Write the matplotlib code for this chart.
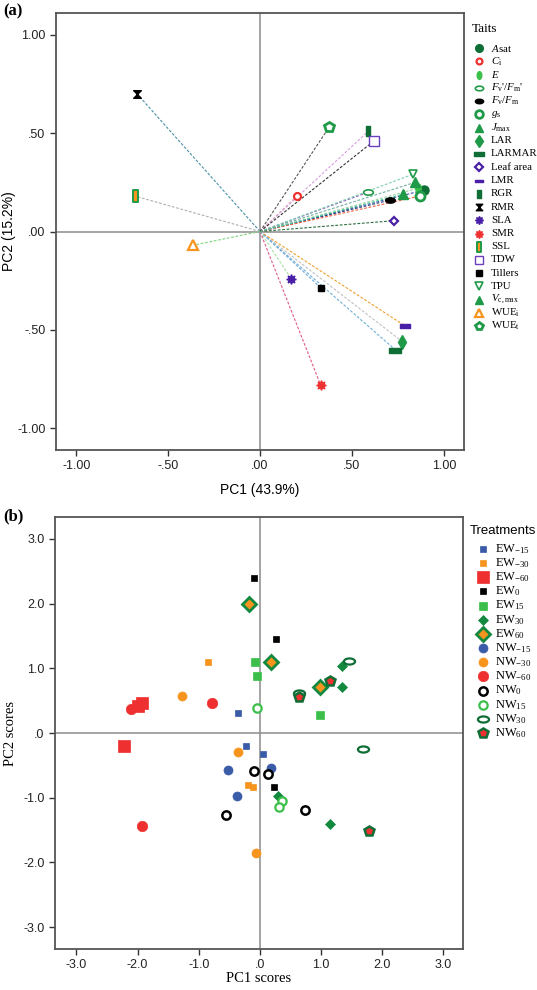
import matplotlib
matplotlib.use("Agg")
import matplotlib.pyplot as plt
import numpy as np
from matplotlib.lines import Line2D
from matplotlib.path import Path

plt.rcParams["font.family"] = ["Liberation Sans", "DejaVu Sans"]
plt.rcParams["mathtext.fontset"] = "custom"
plt.rcParams["mathtext.rm"] = "Liberation Serif"
plt.rcParams["mathtext.it"] = "Liberation Serif:italic"
plt.rcParams["mathtext.bf"] = "Liberation Serif:bold"

# ---- panel (a): trait loadings ----
trait_labels = [r"$A$sat", r"$C_{\mathrm{i}}$", r"$E$", r"$F_{\mathrm{v}}$'/$F_{\mathrm{m}}$'",
                r"$F_{\mathrm{v}}$/$F_{\mathrm{m}}$", r"$g_{\mathrm{s}}$", r"$J_{\mathrm{max}}$",
                "LAR", "LARMAR", "Leaf area", "LMR", "RGR", "RMR", "SLA", "SMR", "SSL",
                "TDW", "Tillers", "TPU", r"$V_{\mathrm{c,max}}$", r"WUE$_{\mathrm{i}}$",
                r"WUE$_{\mathrm{t}}$"]
pc1_loadings = [0.89, 0.20, 0.86, 0.59, 0.71, 0.87, 0.78, 0.775, 0.735, 0.73, 0.79, 0.59,
                -0.67, 0.17, 0.33, -0.68, 0.62, 0.33, 0.83, 0.845, -0.365, 0.376]
pc2_loadings = [0.21, 0.18, 0.22, 0.20, 0.16, 0.18, 0.19, -0.56, -0.60, 0.055, -0.48, 0.51,
                0.70, -0.24, -0.78, 0.18, 0.46, -0.285, 0.29, 0.25, -0.07, 0.53]

# ---- panel (b): treatment scores ----
treatment_labels = [r"EW$_{\mathrm{-15}}$", r"EW$_{\mathrm{-30}}$", r"EW$_{\mathrm{-60}}$",
                    r"EW$_{\mathrm{0}}$", r"EW$_{\mathrm{15}}$", r"EW$_{\mathrm{30}}$",
                    r"EW$_{\mathrm{60}}$", r"NW$_{\mathrm{-15}}$", r"NW$_{\mathrm{-30}}$",
                    r"NW$_{\mathrm{-60}}$", r"NW$_{\mathrm{0}}$", r"NW$_{\mathrm{15}}$",
                    r"NW$_{\mathrm{30}}$", r"NW$_{\mathrm{60}}$"]
score_pc1 = [-0.36, -0.23, 0.05,  -0.85, -0.19, -0.12,  -2.00, -1.92, -2.22,
             -0.10, 0.27, 0.23,  -0.08, -0.05, 0.98,  1.34, 1.34, 0.30, 1.14,
             -0.18, 0.18, 0.98,  -0.52, 0.18, -0.38,  -1.28, -0.36, -0.07,
             -0.79, -2.11, -1.93,  -0.10, 0.13, -0.56, 0.74,  -0.04, 0.36, 0.31,
             1.45, 0.64, 1.68,  1.14, 0.64, 1.78]
score_pc2 = [0.31, -0.20, -0.33,  1.10, -0.80, -0.83,  0.42, 0.47, -0.20,
             2.40, 1.46, -0.83,  1.10, 0.88, 0.28,  1.04, 0.71, -0.98, -1.41,
             2.00, 1.10, 0.71,  -0.57, -0.54, -0.97,  0.57, -0.29, -1.85,
             0.46, 0.37, -1.44,  -0.58, -0.63, -1.27, -1.19,  0.38, -1.05, -1.15,
             1.11, 0.62, -0.25,  0.80, 0.55, -1.52]
score_group = [0, 0, 0, 1, 1, 1, 2, 2, 2, 3, 3, 3, 4, 4, 4, 5, 5, 5, 5,
               6, 6, 6, 7, 7, 7, 8, 8, 8, 9, 9, 9, 10, 10, 10, 10, 11, 11, 11,
               12, 12, 12, 13, 13, 13]


def shape(verts):
    verts = list(verts) + [verts[0]]
    codes = [Path.MOVETO] + [Path.LINETO] * (len(verts) - 2) + [Path.CLOSEPOLY]
    return Path(verts, codes)


circ = Path.unit_circle()
ell_h = Path(circ.vertices * [1.0, 0.55], circ.codes)
ell_v = Path(circ.vertices * [0.6, 1.0], circ.codes)
rect_h = shape([(-1, -0.45), (1, -0.45), (1, 0.45), (-1, 0.45)])
bar_h = shape([(-1, -0.35), (1, -0.35), (1, 0.35), (-1, 0.35)])
rect_v = shape([(-0.45, -1), (0.45, -1), (0.45, 1), (-0.45, 1)])
hourglass = shape([(-1, 1), (1, 1), (-1, -1), (1, -1)])

DG = "#0f6e35"
G = "#1f9a48"
LG = "#3bbf4a"
PUR = "#4a1fa8"
RED = "#ee3030"
ORG = "#f7941d"

# marker, size, face, edge, edgewidth, line colour
trait_style = [
    ("o", 6.5, DG, DG, 1, "#3a55a8"),
    ("o", 5, "white", RED, 1.6, "#e0a0a0"),
    (ell_v, 6.5, LG, LG, 1, "#9ad0a0"),
    (ell_h, 7, "white", G, 1.2, "#8a5fc0"),
    (ell_h, 7, "black", "black", 1, "#2a3a80"),
    ("o", 6.5, "white", G, 2.0, "#f06040"),
    ("^", 6.5, G, G, 1, "#50c8a0"),
    ("d", 7, G, G, 1, "#c0c0c0"),
    (rect_h, 8, DG, DG, 1, "#70b0d8"),
    ("D", 4.5, "white", PUR, 1.6, "#2a6e3a"),
    (bar_h, 7, PUR, PUR, 1, "#f0a030"),
    (rect_v, 7, DG, DG, 1, "#d8a0e0"),
    (hourglass, 5.5, "black", "black", 1, "#4a8fa8"),
    ((8, 1, 0), 7, PUR, PUR, 1, "#a8e0a0"),
    ((8, 1, 0), 7, RED, RED, 1, "#e05a8a"),
    (rect_v, 8, ORG, G, 1.4, "#b0b0b0"),
    ("s", 7, "white", "#6a3fc0", 1.0, "#333333"),
    ("s", 4.5, "black", "black", 1, "#6fa8d8"),
    ("v", 6, "white", G, 1.2, "#80d0b0"),
    ("^", 7, G, G, 1, "#70b0a0"),
    ("^", 7, "white", ORG, 1.6, "#7fd67f"),
    ("p", 7, "white", G, 2.0, "#555555"),
]

treat_style = [
    ("s", 5, "#3a5ba8", "#3a5ba8", 0.5),
    ("s", 5, ORG, ORG, 0.5),
    ("s", 8, RED, RED, 0.5),
    ("s", 5, "black", "black", 0.5),
    ("s", 6, LG, LG, 0.5),
    ("D", 5, "#13893f", "#13893f", 0.5),
    ("D", 7, ORG, "#13893f", 2.0),
    ("o", 6.5, "#3a5ba8", "#3a5ba8", 0.5),
    ("o", 6.5, ORG, ORG, 0.5),
    ("o", 7.5, RED, RED, 0.5),
    ("o", 6, "white", "black", 1.8),
    ("o", 6, "white", LG, 1.6),
    (ell_h, 8, "white", DG, 1.6),
    ("p", 7.5, RED, DG, 1.8),
]

W, H = 537, 990
fig = plt.figure(figsize=(W / 100, H / 100), dpi=100)


def fx(px):
    return px / W


def fy(py):
    return 1 - py / H


ax_a = fig.add_axes([fx(56), fy(450), fx(464) - fx(56), fy(13) - fy(450)])
ax_b = fig.add_axes([fx(55), fy(949), fx(463) - fx(55), fy(517) - fy(949)])

for ax in (ax_a, ax_b):
    for sp in ax.spines.values():
        sp.set_color("#555555")
        sp.set_linewidth(1.3)
    ax.tick_params(direction="out", length=4, width=1, color="#333333",
                   labelsize=9, labelcolor="#222222", top=False, right=False)
    ax.axhline(0, color="#8c8c8c", lw=1.1, zorder=1)
    ax.axvline(0, color="#8c8c8c", lw=1.1, zorder=1)

# panel (a)
for x, y, st in zip(pc1_loadings, pc2_loadings, trait_style):
    ax_a.plot([0, x], [0, y], ls=(0, (2.5, 1.5)), lw=0.8, color=st[5], zorder=2)
for x, y, st in zip(pc1_loadings, pc2_loadings, trait_style):
    m, ms, fc, ec, ew, _ = st
    ax_a.plot(x, y, marker=m, ms=ms, mfc=fc, mec=ec, mew=ew, ls="none", zorder=3)
ax_a.set_xlim(-1.11, 1.11)
ax_a.set_ylim(-1.11, 1.11)
ticks_a = [-1.0, -0.5, 0.0, 0.5, 1.0]
tick_labels_a = ["-1.00", "-.50", ".00", ".50", "1.00"]
ax_a.set_xticks(ticks_a, tick_labels_a)
ax_a.set_yticks(ticks_a, tick_labels_a)
ax_a.set_xlabel("PC1 (43.9%)", fontsize=10)
ax_a.set_ylabel("PC2 (15.2%)", fontsize=10)
ax_a.xaxis.set_label_coords(0.5, -0.075)
ax_a.yaxis.set_label_coords(-0.097, 0.5)

# panel (b)
for gi, st in enumerate(treat_style):
    m, ms, fc, ec, ew = st
    xs = [x for x, g in zip(score_pc1, score_group) if g == gi]
    ys = [y for y, g in zip(score_pc2, score_group) if g == gi]
    ax_b.plot(xs, ys, marker=m, ms=ms, mfc=fc, mec=ec, mew=ew, ls="none", zorder=3)
ax_b.set_xlim(-3.35, 3.32)
ax_b.set_ylim(-3.34, 3.34)
ticks_b = [-3.0, -2.0, -1.0, 0.0, 1.0, 2.0, 3.0]
tick_labels_b = ["-3.0", "-2.0", "-1.0", ".0", "1.0", "2.0", "3.0"]
ax_b.set_xticks(ticks_b, tick_labels_b)
ax_b.set_yticks(ticks_b, tick_labels_b)
ax_b.set_xlabel("PC1 scores", fontsize=10.5, family="Liberation Serif")
ax_b.set_ylabel("PC2 scores", fontsize=10.5, family="Liberation Serif")
ax_b.xaxis.set_label_coords(0.5, -0.054)
ax_b.yaxis.set_label_coords(-0.092, 0.5)

# panel letters
fig.text(fx(3), fy(11), "(a)", fontsize=12, fontweight="bold", family="Liberation Serif",
         va="center", ha="left")
fig.text(fx(3), fy(516), "(b)", fontsize=12, fontweight="bold", family="Liberation Serif",
         va="center", ha="left")

# legend (a)
fig.text(fx(472), fy(29), "Taits", fontsize=9.5, family="Liberation Serif", va="center")
for i, (lab, st) in enumerate(zip(trait_labels, trait_style)):
    yy = fy(48 + i * 13.25)
    m, ms, fc, ec, ew, _ = st
    fig.add_artist(Line2D([fx(479)], [yy], marker=m, ms=ms * 0.85, mfc=fc, mec=ec, mew=ew,
                          ls="none", transform=fig.transFigure))
    fig.text(fx(491), yy, lab, fontsize=7.8, family="Liberation Serif", va="center")

# legend (b)
fig.text(fx(470), fy(531), "Treatments", fontsize=9.5, va="center")
for i, (lab, st) in enumerate(zip(treatment_labels, treat_style)):
    yy = fy(549 + i * 14.15)
    m, ms, fc, ec, ew = st
    fig.add_artist(Line2D([fx(483)], [yy], marker=m, ms=ms, mfc=fc, mec=ec, mew=ew,
                          ls="none", transform=fig.transFigure))
    fig.text(fx(495), yy, lab, fontsize=9, family="Liberation Serif", va="center")

fig.savefig("out.png", dpi=100)
